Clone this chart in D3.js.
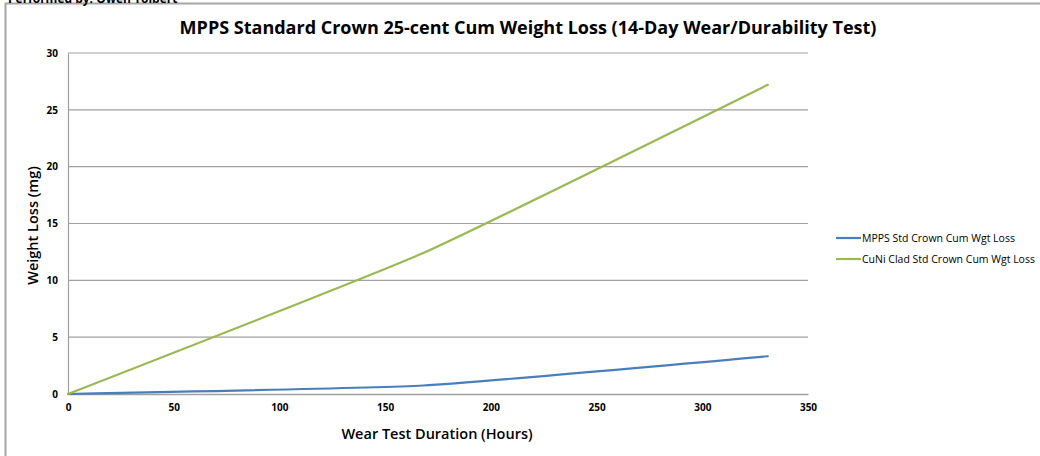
<!DOCTYPE html>
<html>
<head>
<meta charset="utf-8">
<script src="https://cdn.jsdelivr.net/npm/d3@7"></script>
<style>
  html, body { margin: 0; padding: 0; background: #fff; }
  svg { display: block; }
</style>
</head>
<body>
<svg id="chart" width="1040" height="456"></svg>
<script>
// Wear test sample times (hours) and cumulative weight loss (mg)
const hours = [0, 168, 331];
const mppsLoss = [0, 0.75, 3.32];
const cuniLoss = [0, 12.4, 27.2];
const seriesNames = ["MPPS Std Crown Cum Wgt Loss", "CuNi Clad Std Crown Cum Wgt Loss"];
const seriesColors = ["#4a7ebb", "#98b954"];
const xTicks = [0, 50, 100, 150, 200, 250, 300, 350];
const yTicks = [0, 5, 10, 15, 20, 25, 30];

const svg = d3.select("#chart");
const font = "'Open Sans', 'Noto Sans', sans-serif";

// Outer chart frame
svg.append("rect")
  .attr("x", 5.5).attr("y", 3.5)
  .attr("width", 1040).attr("height", 460)
  .attr("fill", "#fff").attr("stroke", "#a6a6a6").attr("stroke-width", 2);

// Header line above the frame (partly clipped)
svg.append("text")
  .attr("x", 8).attr("y", 3)
  .attr("font-family", font).attr("font-size", 12).attr("font-weight", 700)
  .attr("fill", "#000")
  .text("Performed by:  Owen Tolbert");

const plot = { left: 68, right: 808, top: 53, bottom: 394 };

const x = d3.scaleLinear().domain([0, 350]).range([plot.left, plot.right]);
const y = d3.scaleLinear().domain([0, 30]).range([plot.bottom, plot.top]);

// Title
svg.append("text")
  .attr("x", 528).attr("y", 34)
  .attr("text-anchor", "middle")
  .attr("font-family", font).attr("font-size", 18).attr("font-weight", 700)
  .attr("fill", "#000")
  .text("MPPS Standard Crown 25-cent Cum Weight Loss (14-Day Wear/Durability Test)");

// Horizontal gridlines
svg.append("g")
  .selectAll("line")
  .data(yTicks.filter(d => d > 0))
  .join("line")
  .attr("x1", plot.left).attr("x2", plot.right)
  .attr("y1", d => y(d)).attr("y2", d => y(d))
  .attr("stroke", "#a0a0a0").attr("stroke-width", 1.2);

// Y axis
const yAxis = svg.append("g")
  .attr("transform", `translate(${plot.left},0)`)
  .call(d3.axisLeft(y).tickValues(yTicks).tickSize(0).tickPadding(10));
yAxis.select(".domain").attr("stroke", "#a0a0a0").attr("stroke-width", 1.2);
yAxis.selectAll("text")
  .attr("font-family", font).attr("font-size", 10).attr("font-weight", 700).attr("fill", "#000");

// X axis
const xAxis = svg.append("g")
  .attr("transform", `translate(0,${plot.bottom})`)
  .call(d3.axisBottom(x).tickValues(xTicks).tickSize(0).tickPadding(10));
xAxis.select(".domain").attr("stroke", "#a0a0a0").attr("stroke-width", 1.6);
xAxis.selectAll("text")
  .attr("font-family", font).attr("font-size", 10).attr("font-weight", 700).attr("fill", "#000");

// Axis titles
svg.append("text")
  .attr("x", (plot.left + plot.right) / 2 - 1).attr("y", 439)
  .attr("text-anchor", "middle")
  .attr("font-family", font).attr("font-size", 14.5).attr("font-weight", 600)
  .attr("fill", "#000")
  .text("Wear Test Duration (Hours)");

svg.append("text")
  .attr("transform", `translate(38,${(plot.top + plot.bottom) / 2 + 2}) rotate(-90)`)
  .attr("text-anchor", "middle")
  .attr("font-family", font).attr("font-size", 14.5).attr("font-weight", 600)
  .attr("fill", "#000")
  .text("Weight Loss (mg)");

// Lightly smoothed series lines
const line = d3.line()
  .x(d => x(d[0]))
  .y(d => y(d[1]))
  .curve(d3.curveCardinal.tension(0.6));

const series = [mppsLoss, cuniLoss].map((vals, i) => ({
  name: seriesNames[i],
  color: seriesColors[i],
  points: hours.map((h, j) => [h, vals[j]])
}));

svg.append("g")
  .selectAll("path")
  .data(series)
  .join("path")
  .attr("d", d => line(d.points))
  .attr("fill", "none")
  .attr("stroke", d => d.color)
  .attr("stroke-width", 2.2)
  .attr("stroke-linecap", "round");

// Legend
const legend = svg.append("g")
  .selectAll("g")
  .data(series)
  .join("g")
  .attr("transform", (d, i) => `translate(836,${238 + i * 21})`);
legend.append("line")
  .attr("x1", 0).attr("x2", 25)
  .attr("stroke", d => d.color).attr("stroke-width", 2.2);
legend.append("text")
  .attr("x", 26).attr("y", 3.8)
  .attr("font-family", font).attr("font-size", 10.5)
  .attr("fill", "#000")
  .text(d => d.name);
</script>
</body>
</html>
